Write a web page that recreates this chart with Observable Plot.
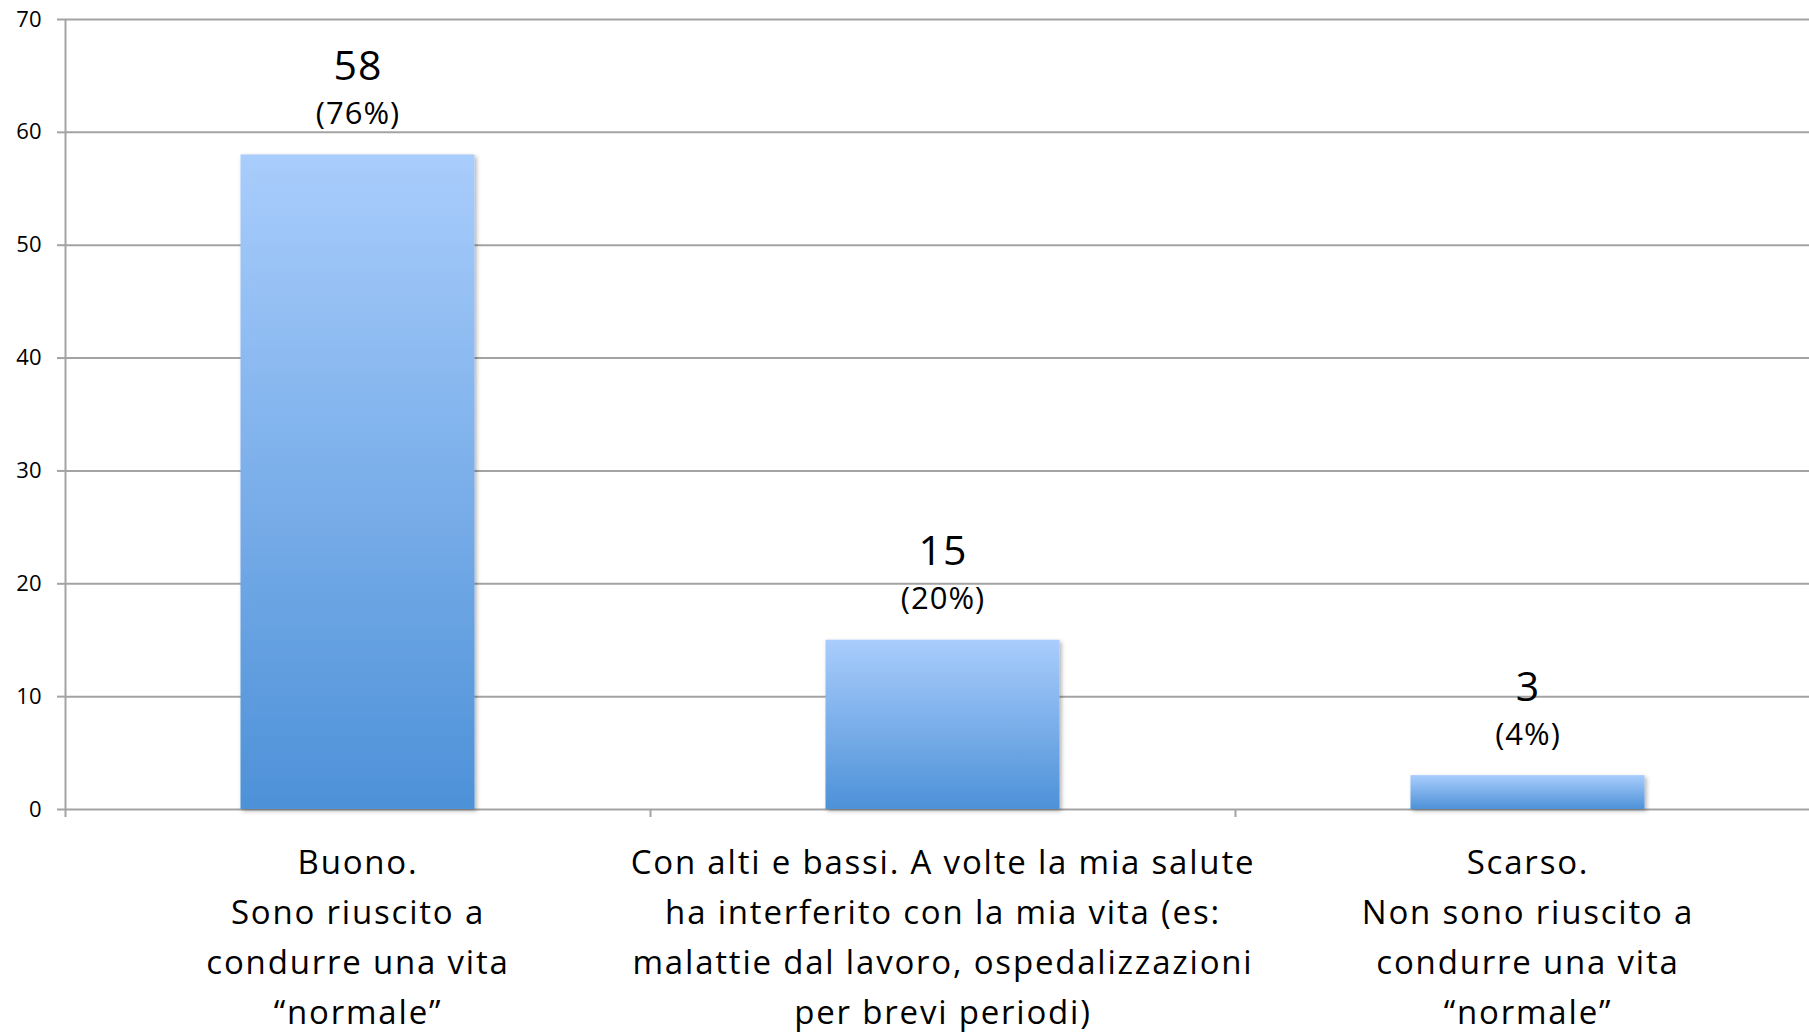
<!DOCTYPE html>
<html>
<head>
<meta charset="utf-8">
<script src="https://cdn.jsdelivr.net/npm/d3@7"></script>
<script src="https://cdn.jsdelivr.net/npm/@observablehq/plot@0.6"></script>
<style>
  html, body { margin: 0; padding: 0; background: #fff; overflow: hidden; }
  #chart svg { display: block; }
</style>
</head>
<body>
<div id="chart"></div>
<script>
const categories = [
  "Buono.\nSono riuscito a\ncondurre una vita\n“normale”",
  "Con alti e bassi. A volte la mia salute\nha interferito con la mia vita (es:\nmalattie dal lavoro, ospedalizzazioni\nper brevi periodi)",
  "Scarso.\nNon sono riuscito a\ncondurre una vita\n“normale”"
];
const counts = [58, 15, 3];
const percents = ["(76%)", "(20%)", "(4%)"];
const yTicks = [0, 10, 20, 30, 40, 50, 60, 70];

const data = categories.map((c, i) => ({i, category: c, count: counts[i], pct: percents[i]}));
const boundaries = d3.range(categories.length + 1);

const gridColor = "#a3a3a3";
const barPad = 0.3;

const svg = Plot.plot({
  width: 1809,
  height: 1036,
  marginTop: 19,
  marginBottom: 227,
  marginLeft: 65,
  marginRight: -11,
  style: {fontFamily: "'Open Sans', Lato, sans-serif", background: "#fff", color: "#000"},
  x: {type: "linear", domain: [0, categories.length], axis: null},
  y: {domain: [0, 70], axis: null},
  marks: [
    Plot.ruleY(yTicks, {stroke: gridColor, strokeWidth: 2}),
    Plot.axisY({ticks: yTicks, tickSize: 8, tickPadding: 16, fontSize: 22, stroke: gridColor, strokeWidth: 2, fill: "#000", label: null}),
    Plot.ruleX([0], {stroke: gridColor, strokeWidth: 2}),
    Plot.axisX({ticks: boundaries, tickSize: 8, tickFormat: () => "", stroke: gridColor, strokeWidth: 2, label: null}),
    Plot.rectY(data, {x1: d => d.i + barPad, x2: d => d.i + 1 - barPad, y: "count", fill: "url(#barGrad)"}),
    Plot.text(data, {x: d => d.i + 0.5, y: "count", text: d => String(d.count), dy: -88, fontSize: 41, lineAnchor: "middle", fill: "#000"}),
    Plot.text(data, {x: d => d.i + 0.5, y: "count", text: "pct", dy: -41, fontSize: 31, lineAnchor: "middle", fill: "#000"}),
    Plot.text(data, {x: d => d.i + 0.5, y: 0, text: "category", dy: 29, fontSize: 33, lineAnchor: "top", lineHeight: 50 / 33, fill: "#000"})
  ]
});

const s = d3.select(svg);
const defs = s.insert("defs", ":first-child");
const g = defs.append("linearGradient").attr("id", "barGrad").attr("x1", 0).attr("y1", 0).attr("x2", 0).attr("y2", 1);
g.append("stop").attr("offset", "0%").attr("stop-color", "#a9cdfc");
g.append("stop").attr("offset", "100%").attr("stop-color", "#4d91d8");
const f = defs.append("filter").attr("id", "barShadow").attr("x", "-10%").attr("y", "-10%").attr("width", "130%").attr("height", "130%");
f.append("feDropShadow").attr("dx", 2).attr("dy", 2).attr("stdDeviation", 2).attr("flood-color", "#000").attr("flood-opacity", 0.3);
s.selectAll("g[aria-label='rect'] rect").attr("filter", "url(#barShadow)");

const textGroups = s.selectAll("g[aria-label='text']").nodes();
d3.select(textGroups[0]).style("letter-spacing", "1px");
d3.select(textGroups[1]).style("letter-spacing", "1px");
d3.select(textGroups[2]).style("letter-spacing", "1.8px");

document.getElementById("chart").appendChild(svg);
</script>
</body>
</html>
